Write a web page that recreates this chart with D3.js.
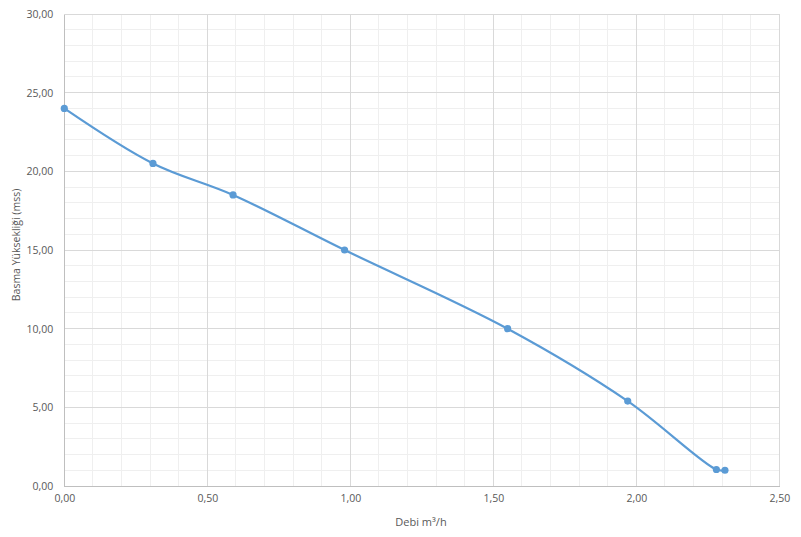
<!DOCTYPE html>
<html><head><meta charset="utf-8">
<script src="https://cdn.jsdelivr.net/npm/d3@7"></script>
<style>body{margin:0;background:#fff}svg{display:block}</style>
</head><body><svg id="c" width="801" height="537"></svg>
<script>
const flow = [0, 0.31, 0.59, 0.98, 1.55, 1.97, 2.28, 2.31];
const head = [24.0, 20.5, 18.5, 15.0, 10.0, 5.4, 1.05, 1.0];
const xTicks = [0, 0.5, 1.0, 1.5, 2.0, 2.5];
const yTicks = [0, 5, 10, 15, 20, 25, 30];
const xTitle = "Debi m³/h";
const yTitle = "Basma Yüksekliği (mss)";

const svg = d3.select("#c");
const m = {l:64.3, r:779.3, t:14, b:486};
const x = d3.scaleLinear().domain([0,2.5]).range([m.l,m.r]);
const y = d3.scaleLinear().domain([0,30]).range([m.b,m.t]);
const fmt = d => d.toFixed(2).replace(".", ",");
const font = "'Open Sans', sans-serif";

// minor grid
const xMinor = d3.range(0, 2.5001, 0.1);
const yMinor = d3.range(0, 30.001, 1);
svg.append("g").selectAll("line").data(xMinor).join("line")
  .attr("x1", d=>x(d)).attr("x2", d=>x(d)).attr("y1", m.t).attr("y2", m.b)
  .attr("stroke", "#efefef").attr("stroke-width", 1).attr("shape-rendering","crispEdges");
svg.append("g").selectAll("line").data(yMinor).join("line")
  .attr("y1", d=>y(d)).attr("y2", d=>y(d)).attr("x1", m.l).attr("x2", m.r)
  .attr("stroke", "#efefef").attr("stroke-width", 1).attr("shape-rendering","crispEdges");
// major grid
svg.append("g").selectAll("line").data(xTicks).join("line")
  .attr("x1", d=>x(d)).attr("x2", d=>x(d)).attr("y1", m.t).attr("y2", m.b)
  .attr("stroke", "#d9d9d9").attr("stroke-width", 1).attr("shape-rendering","crispEdges");
svg.append("g").selectAll("line").data(yTicks).join("line")
  .attr("y1", d=>y(d)).attr("y2", d=>y(d)).attr("x1", m.l).attr("x2", m.r)
  .attr("stroke", "#d9d9d9").attr("stroke-width", 1).attr("shape-rendering","crispEdges");

// axes
const xAxis = svg.append("g").attr("transform", `translate(0,${m.b})`)
  .call(d3.axisBottom(x).tickValues(xTicks).tickFormat(fmt).tickSize(0).tickPadding(9));
const yAxis = svg.append("g").attr("transform", `translate(${m.l},0)`)
  .call(d3.axisLeft(y).tickValues(yTicks).tickFormat(fmt).tickSize(0).tickPadding(11));
[xAxis, yAxis].forEach(a => {
  a.select(".domain").attr("stroke", "#bfbfbf").attr("shape-rendering","crispEdges");
  a.selectAll("text").attr("fill", "#595959").style("font-family", font).style("font-size", "10.5px");
});

// titles
svg.append("text").attr("x", 421).attr("y", 526).attr("text-anchor","middle")
  .attr("fill","#595959").style("font-family", font).style("font-size","11px").text(xTitle);
svg.append("text").attr("transform","translate(20,245) rotate(-90)").attr("text-anchor","middle")
  .attr("fill","#595959").style("font-family", font).style("font-size","10.5px").text(yTitle);

// line
const pts = flow.map((f,i)=>[f, head[i]]);
svg.append("path").datum(pts)
  .attr("d", d3.line().x(d=>x(d[0])).y(d=>y(d[1])).curve(d3.curveCatmullRom.alpha(0.5)))
  .attr("fill","none").attr("stroke","#5b9bd5").attr("stroke-width",2.2).attr("stroke-linecap","round");
svg.append("g").selectAll("circle").data(pts).join("circle")
  .attr("cx", d=>x(d[0])).attr("cy", d=>y(d[1])).attr("r", 3.6).attr("fill","#5b9bd5");
</script></body></html>
